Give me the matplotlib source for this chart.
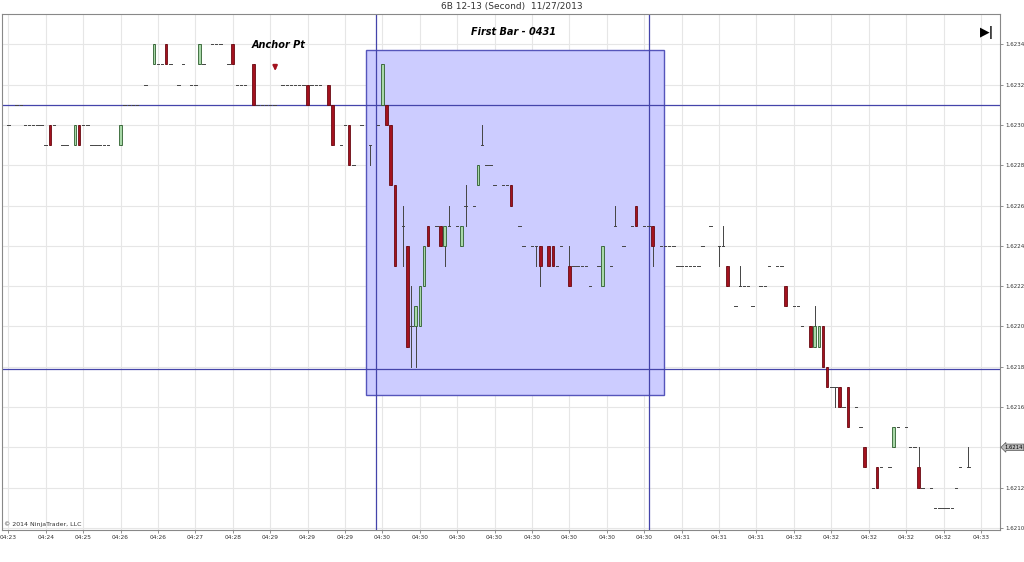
import matplotlib
matplotlib.use("Agg")
import matplotlib.pyplot as plt
from matplotlib.patches import Rectangle

# price in ticks above 1.6200 (1 tick = 0.0001)
bar_index = [0,2,3,4,5,6,7,8,9,10,11,13,14,16,17,18,19,20,21,22,23,24,27,28,29,30,31,33,35,36,37,38,39,41,42,44,45,46,47,
             49,50,51,53,54,55,56,57,59,60,61,62,63,64,66,67,68,69,70,71,72,73,74,75,77,78,80,81,82,83,85,
             87,89,90,91,92,93,95,96,97,98,99,100,101,103,104,105,106,108,109,110,112,113,114,115,116,117,
             119,120,121,123,124,126,127,128,130,131,132,133,135,136,137,138,139,140,142,143,145,146,148,150,151,153,154,155,157,
             158,159,160,161,162,163,164,165,166,167,169,171,172,173,175,176,177,178,179,181,182,183,185,186,187,189,190,191,
             193,194,195,196,197,198,199,200,201,202,204,205,206,208,209,210,212,213,214,216,217,218,219,220,222,223,224,
             225,226,227,228,229,231,233,234]
# (open, high, low, close)
ohlc = [(30,30,30,30),(31,31,31,31),(31,31,31,31)] + [(30,30,30,30)]*5 + [(29,29,29,29),(30,30,29,29),(30,30,30,30),
        (29,29,29,29),(29,29,29,29),(29,30,29,30),(30,30,29,29),(30,30,30,30),(30,30,30,30)] + [(29,29,29,29)]*5 + \
       [(29,30,29,30)] + [(31,31,31,31)]*4 + [(32,32,32,32),(33,34,33,34),(33,33,33,33),(33,33,33,33),(34,34,33,33),
        (33,33,33,33),(32,32,32,32),(33,33,33,33),(32,32,32,32),(32,32,32,32),(33,34,33,34),(33,33,33,33),
        (34,34,34,34),(34,34,34,34),(34,34,34,34),(33,33,33,33),(34,34,33,33),(32,32,32,32),(32,32,32,32),(32,32,32,32),
        (33,33,31,31)] + [(31,31,31,31)]*5 + [(32,32,32,32)]*6 + [(32,32,31,31)] + [(32,32,32,32)]*3 + \
       [(32,32,31,31),(31,31,29,29),(29,29,29,29),(30,30,30,30),(30,30,28,28),(28,28,28,28),(30,30,30,30),
        (29,29,28,29),(30,30,30,30),(31,33,31,33),(31,31,30,30),(30,30,27,27),(27,27,23,23),(25,26,23,25),(24,24,19,19),
        (20,22,18,20),(20,21,18,21),(20,22,20,22),(22,24,22,24),(25,25,24,24),(25,25,25,25),(25,25,24,24),(24,25,23,25),
        (25,26,25,25),(25,25,25,25),(24,25,24,25),(26,27,25,26),(26,26,26,26),(27,28,27,28),(29,30,29,29),(28,28,28,28),
        (28,28,28,28),(27,27,27,27),(27,27,27,27),(27,27,27,27),(27,27,26,26),(25,25,25,25),(24,24,24,24),(24,24,24,24),
        (24,24,23,24),(24,24,22,23),(24,24,23,23),(24,24,23,23),(23,23,23,23),(24,24,24,24),(23,24,22,22)] + \
       [(23,23,23,23)]*4 + [(22,22,22,22),(23,23,23,23),(22,24,22,24),(23,23,23,23),(25,26,25,25),(24,24,24,24),
        (25,25,25,25),(26,26,25,25),(25,25,25,25),(25,25,25,25),(25,25,23,24)] + [(24,24,24,24)]*4 + \
       [(23,23,23,23)]*6 + [(24,24,24,24),(25,25,25,25),(24,24,23,24),(24,25,24,24),(23,23,22,22),(21,21,21,21),
        (22,23,22,22),(22,22,22,22),(22,22,22,22),(21,21,21,21),(22,22,22,22),(22,22,22,22),(23,23,23,23),
        (23,23,23,23),(23,23,23,23),(22,22,21,21),(21,21,21,21),(21,21,21,21),(20,20,20,20),(20,20,19,19),
        (19,21,19,20),(19,20,19,20),(20,20,18,18),(18,18,17,17),(17,17,17,17),(17,17,16,17),(17,17,16,16),
        (16,16,16,16),(17,17,15,15),(16,16,16,16),(15,15,15,15),(14,14,13,13),(12,12,12,12),(13,13,12,12),
        (13,13,13,13),(13,13,13,13),(14,15,14,15),(15,15,15,15),(15,15,15,15),(14,14,14,14),(14,14,14,14),
        (13,14,12,12),(12,12,12,12),(12,12,12,12)] + [(11,11,11,11)]*5 + [(12,12,12,12),(13,13,13,13),(13,14,13,13)]

tick_labels = ["04:23","04:24","04:25","04:26","04:26","04:27","04:28","04:29","04:29","04:29",
               "04:30","04:30","04:30","04:30","04:30","04:30","04:30","04:30","04:31","04:31",
               "04:31","04:32","04:32","04:32","04:32","04:32","04:33"]
price_ticks = [10,12,14,16,18,20,22,24,26,28,30,32,34]
hlines = [31, 17.9]
vlines = [88.5, 154.1]
box = (86.1, 157.7, 16.6, 33.7)
last_price = 14

fig = plt.figure(figsize=(10.24, 5.62), dpi=100)
ax = fig.add_axes([0.002, 0.057, 0.975, 0.918])
ax.set_xlim(-1.5, 238.7)
ax.set_ylim(9.9, 35.5)
for k in range(len(tick_labels)):
    ax.axvline(k * 9, color="#e6e6e6", lw=0.8, zorder=0)
for p in price_ticks:
    ax.axhline(p, color="#e6e6e6", lw=0.8, zorder=0)

ax.add_patch(Rectangle((box[0], box[2]), box[1]-box[0], box[3]-box[2], facecolor="#ccccff",
                       edgecolor="#5555bb", lw=1, zorder=1))
for h in hlines:
    ax.axhline(h, color="#4444aa", lw=0.9, zorder=2)
for v in vlines:
    ax.axvline(v, color="#4444aa", lw=0.9, zorder=2)

w = 0.6
for i, (o, h, l, c) in zip(bar_index, ohlc):
    if h != l:
        ax.plot([i, i], [l, h], color="#444444", lw=0.7, zorder=3)
    if o == c:
        ax.plot([i - 0.3, i + 0.3], [o, o], color="#444444", lw=0.7, zorder=4)
    else:
        up = c > o
        ax.add_patch(Rectangle((i - w/2, min(o, c)), w, abs(c - o),
                               facecolor="#a8d8a8" if up else "#a3121e",
                               edgecolor="#2e5e2e" if up else "#6a0a12", lw=0.6, zorder=4))

ax.annotate("", xy=(64.2, 32.55), xytext=(64.2, 33.05),
            arrowprops=dict(arrowstyle="-|>", color="#a3121e", lw=1.6, mutation_scale=6), zorder=5)
ax.text(65, 33.95, "Anchor Pt", fontsize=7, fontweight="bold", fontstyle="italic", ha="center", va="center", zorder=5)
ax.text(121.5, 34.6, "First Bar - 0431", fontsize=7, fontweight="bold", fontstyle="italic", ha="center", va="center", zorder=5)

ax.set_xticks([k * 9 for k in range(len(tick_labels))])
ax.set_xticklabels(tick_labels, fontsize=4.2, color="#333333")
ax.yaxis.tick_right()
ax.set_yticks(price_ticks)
ax.set_yticklabels(["1.62%02d" % p for p in price_ticks], fontsize=4, color="#333333")
ax.tick_params(length=2, width=0.5, colors="#666666", pad=1.5)
ax.tick_params(axis="y", labelcolor="#333333")
ax.tick_params(axis="x", labelcolor="#333333")
for s in ax.spines.values():
    s.set_color("#888888"); s.set_linewidth(0.8)

ax.text(1.004, last_price, "1.62%02d" % last_price, transform=ax.get_yaxis_transform(), fontsize=3.8,
        va="center", ha="left", bbox=dict(boxstyle="larrow,pad=0.15", fc="#bbbbbb", ec="#555555", lw=0.5), zorder=6)
ax.text(0.002, 0.005, "© 2014 NinjaTrader, LLC", transform=ax.transAxes, fontsize=4.5, color="#333333",
        va="bottom", ha="left")
ax.text(0.987, 0.965, "▶|", transform=ax.transAxes, fontsize=9, fontweight="bold", ha="center", va="center")
fig.text(0.5, 0.988, "6B 12-13 (Second)  11/27/2013", fontsize=6.5, ha="center", va="center", color="#333333")

fig.savefig("out.png", dpi=100)
